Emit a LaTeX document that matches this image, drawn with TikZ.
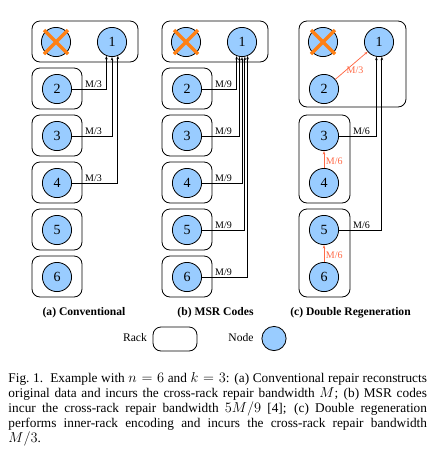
\documentclass[tikz,border=0pt]{standalone}
\usepackage{fontspec}
\setmainfont{Liberation Serif}
\usetikzlibrary{arrows.meta,calc}
\definecolor{nodeblue}{RGB}{153,204,255}
\definecolor{xorange}{RGB}{255,128,20}
\definecolor{redorange}{RGB}{255,105,70}
\begin{document}
\begin{tikzpicture}[x=1pt,y=-1pt,
  rack/.style={draw, rounded corners=8pt, line width=0.8pt, inner sep=0pt},
  dnode/.style={circle, draw, fill=nodeblue, line width=0.8pt, minimum size=29.2pt, inner sep=0pt, font=\fontsize{14}{14}\selectfont},
  crossline/.style={draw=xorange, line width=3.3pt},
  flow/.style={line width=0.75pt, -{Stealth[length=3.5pt,width=2.6pt]}},
  iflow/.style={draw=redorange, line width=0.75pt, -{Stealth[length=3.5pt,width=2.6pt]}},
  lbl/.style={font=\fontsize{10}{10}\selectfont, inner sep=0.5pt, anchor=south},
  ilbl/.style={font=\fontsize{10}{10}\selectfont, inner sep=0.5pt, text=redorange},
  subcap/.style={font=\bfseries\fontsize{11.6}{12}\selectfont},
  legtext/.style={font=\fontsize{11.6}{12}\selectfont}]
\useasboundingbox (0,0) rectangle (432,451);

% ---------- (a) Conventional ----------
\node[rack, minimum width=106pt, minimum height=41pt] (ra1) at (85,41.5) {};
\node[dnode] (ax) at (56,42) {};
\draw[crossline] ($(ax)+(-12,-12)$) -- ($(ax)+(12,12)$);
\draw[crossline] ($(ax)+(-12,12)$) -- ($(ax)+(12,-12)$);
\node[dnode] (a1) at (112,42) {1};
\foreach \k in {2,...,6}{
  \node[rack, minimum width=50pt, minimum height=41pt] (ra\k) at (57,{42+47*(\k-1)-0.5}) {};
  \node[dnode] (a\k) at (57,{42+47*(\k-1)}) {\k};
}
\draw[flow] (a2.east) -| (a1.-112.3);
\draw[flow] (a3.east) -| (a1.-90);
\draw[flow] (a4.east) -| (a1.-67.7);
\node[lbl] (la2) at (93.5,88.5) {M/3};
\node[lbl] (la3) at (93.5,135.5) {M/3};
\node[lbl] (la4) at (93.5,182.5) {M/3};
\node[subcap] (capa) at (84,313) {(a) Conventional};

% ---------- (b) MSR Codes ----------
\node[rack, minimum width=106pt, minimum height=41pt] (rb1) at (215,41.5) {};
\node[dnode] (bx) at (186,42) {};
\draw[crossline] ($(bx)+(-12,-12)$) -- ($(bx)+(12,12)$);
\draw[crossline] ($(bx)+(-12,12)$) -- ($(bx)+(12,-12)$);
\node[dnode] (b1) at (242,42) {1};
\foreach \k in {2,...,6}{
  \node[rack, minimum width=50pt, minimum height=41pt] (rb\k) at (187,{42+47*(\k-1)-0.5}) {};
  \node[dnode] (b\k) at (187,{42+47*(\k-1)}) {\k};
  \node[lbl] (lb\k) at (223.5,{42+47*(\k-1)-0.5}) {M/9};
}
\draw[flow] (b2.east) -| (b1.-111.1);
\draw[flow] (b3.east) -| (b1.-100.4);
\draw[flow] (b4.east) -| (b1.-90);
\draw[flow] (b5.east) -| (b1.-79.6);
\draw[flow] (b6.east) -| (b1.-68.9);
\node[subcap] (capb) at (215.5,313) {(b) MSR Codes};

% ---------- (c) Double Regeneration ----------
\node[rack, minimum width=107pt, minimum height=86pt] (rc1) at (352.5,64) {};
\node[dnode] (cx) at (323,42) {};
\draw[crossline] ($(cx)+(-12,-12)$) -- ($(cx)+(12,12)$);
\draw[crossline] ($(cx)+(-12,12)$) -- ($(cx)+(12,-12)$);
\node[dnode] (c1) at (379,42) {1};
\node[dnode] (c2) at (324,89) {2};
\node[rack, minimum width=51pt, minimum height=88pt] (rc3) at (324.5,159) {};
\node[dnode] (c3) at (324,136) {3};
\node[dnode] (c4) at (324,183) {4};
\node[rack, minimum width=51pt, minimum height=88pt] (rc5) at (324.5,253) {};
\node[dnode] (c5) at (324,230) {5};
\node[dnode] (c6) at (324,277) {6};
\draw[iflow] (c2) -- node[ilbl, pos=0.5, anchor=north, xshift=3.5pt] (lc2) {M/3} (c1);
\draw[iflow] (c4) -- node[ilbl, pos=0.5, anchor=west, xshift=1pt, yshift=-1.5pt] (lc4) {M/6} (c3);
\draw[iflow] (c6) -- node[ilbl, pos=0.5, anchor=west, xshift=1pt, yshift=-1.5pt] (lc6) {M/6} (c5);
\draw[flow] (c3.east) -| (c1.-100.8);
\draw[flow] (c5.east) -| (c1.-79.2);
\node[lbl] (lc3) at (361.5,135.5) {M/6};
\node[lbl] (lc5) at (361.5,229.5) {M/6};
\node[subcap] (capc) at (350.5,313) {(c) Double Regeneration};

% ---------- legend ----------
\node[legtext] (tr) at (135,338) {Rack};
\node[rack, minimum width=44pt, minimum height=24pt] (lrack) at (175,339) {};
\node[legtext] (tn) at (241,338) {Node};
\node[dnode, minimum size=24.2pt] (lnode) at (274,338.5) {};

% ---------- caption ----------
\node[anchor=base west, text width=418.5pt, align=justify, inner sep=0pt,
      font=\fontsize{13.3}{15.1}\selectfont] (cap) at (8.3,382.3)
 {\tolerance=10000\hyphenpenalty=10000
  Fig.~1.\ \ Example with $n=6$ and $k=3$: (a) Conventional repair reconstructs\linebreak
  original data and incurs the cross-rack repair bandwidth $M$; (b) MSR codes\linebreak
  incur the cross-rack repair bandwidth $5M/9$ [4]; (c) Double regeneration\linebreak
  performs inner-rack encoding and incurs the cross-rack repair bandwidth\linebreak
  $M/3$.};
\end{tikzpicture}
\end{document}
